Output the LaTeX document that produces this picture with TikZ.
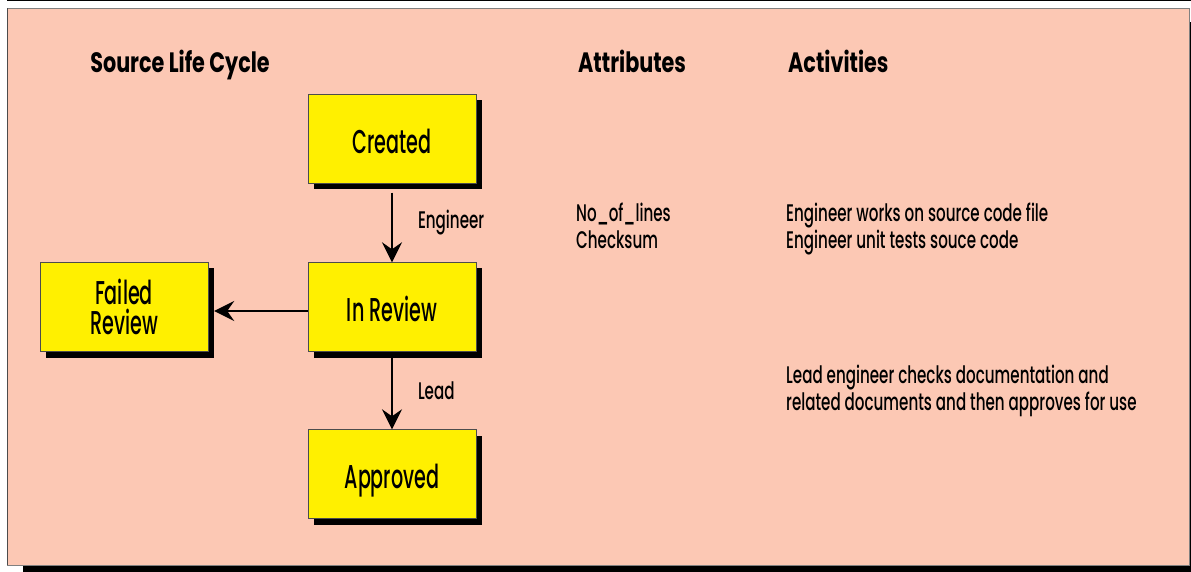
\documentclass[tikz,border=0pt]{standalone}
\usepackage{fontspec}
\setmainfont{Poppins}[FakeStretch=0.63, UprightFont=* Medium, BoldFont=* Bold]
\newfontfamily\statefont{Poppins}[FakeStretch=0.58, UprightFont=* Medium]
\newfontfamily\headfont{Poppins}[FakeStretch=0.74, UprightFont=* Bold]
\usetikzlibrary{arrows.meta,shadows,positioning}
\definecolor{peach}{RGB}{252,200,180}
\definecolor{stateyellow}{RGB}{255,240,0}
\tikzset{state/.style={rectangle, draw=black!70, thin, fill=stateyellow, minimum width=168pt, minimum height=89pt, align=center, font=\statefont\fontsize{33}{30}\selectfont, drop shadow={shadow xshift=6pt, shadow yshift=-6pt, fill=black, opacity=1}}}
\tikzset{oneline/.style={text height=30pt, text depth=1pt}}
\tikzset{flow/.style={line width=2pt, -{Stealth[length=20pt, width=20pt, inset=7pt]}}}
\tikzset{heading/.style={font=\headfont\fontsize{28}{30}\selectfont, anchor=base west, inner sep=0pt}}
\tikzset{note/.style={font=\fontsize{24}{27}\selectfont, anchor=base west, align=left, inner sep=0pt}}

\begin{document}
\begin{tikzpicture}[x=1pt,y=1pt]
\useasboundingbox (0,0) rectangle (1191,571);
\clip (0,0) rectangle (1191,571);
% frame and its shadow
\fill[black] (7,570) rectangle (1191,572);
\fill[black] (23,-10) rectangle (1205,549);
\filldraw[fill=peach, draw=black!50, thin] (7,6) rectangle (1189,563);
\draw[black!70, line width=1.2pt] (7.6,6) -- (7.6,563);

\node (lifecycle) at (180,498)[heading, anchor=base]{Source Life Cycle};
\node (attributes) at (578,498)[heading]{Attributes};
\node (activities) at (788,498)[heading]{Activities};

\node (created) at (392,432)[state, oneline]{Created};
\node (review) at (392,264)[state, oneline]{In Review};
\node (failed) at (124,264)[state]{Failed\\Review};
\node (approved) at (392,97)[state, oneline]{Approved};

\draw[flow, shorten <=9pt] (created) -- (review)node [midway, right=25pt, inner sep=0pt, font=\fontsize{24}{27}\selectfont]{Engineer};
\draw[flow, shorten <=6pt] (review) -- (approved)node [midway, right=25pt, inner sep=0pt, font=\fontsize{24}{27}\selectfont]{Lead};
\draw[flow, shorten >=6pt] ([yshift=-4pt]review.west) -- ([yshift=-4pt]failed.east);

% attributes and activities per state (base is the last line)
\node (attrs) at (576,322)[note]{No\_of\_lines\\Checksum};
\node (work) at (786,322)[note]{Engineer works on source code file\\Engineer unit tests souce code};
\node (lead) at (786,161)[note]{Lead engineer checks documentation and\\related documents and then approves for use};
\end{tikzpicture}
\end{document}
